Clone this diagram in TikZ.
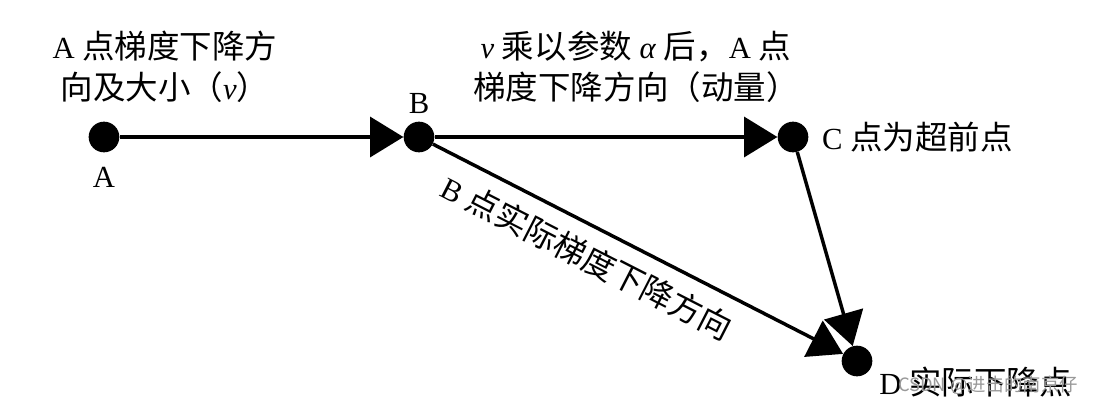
\documentclass[tikz,border=0pt]{standalone}
\usepackage{fontspec}
\setmainfont{Liberation Serif}
\newfontfamily\cjk[Scale=1.06]{Noto Sans CJK SC}
\usetikzlibrary{arrows.meta, positioning}

\begin{document}
\begin{tikzpicture}[x=0.75pt, y=-0.75pt,
    dot/.style={circle, fill=black, minimum size=23pt, inner sep=0pt},
    vec/.style={line width=2.6pt, -{Triangle[length=25pt, width=30pt]}},
    lbl/.style={font=\fontsize{23}{31}\selectfont, inner sep=0pt}]
  \useasboundingbox (0,0) rectangle (1109,408);

  % Points A, B, C, D
  \node[dot] (A) at (104,137) {};
  \node[dot] (B) at (419,137) {};
  \node[dot] (C) at (793,137) {};
  \node[dot] (D) at (857,361) {};

  % Point labels
  \node[lbl, below=11pt of A] (labA) {A};
  \node[lbl, above=6pt of B] (labB) {B};
  \node[lbl, right=10pt of C] (labC) {C {\cjk 点为超前点}};
  \node[lbl, anchor=west] (labD) at (879,382) {D {\cjk 实际下降点}};

  % Step descriptions
  \node[lbl, align=center] (stepA) at (165,67)
    {A {\cjk 点梯度下降方}\\{\cjk 向及大小（}\textit{v}{\cjk ）}};
  \node[lbl, align=center] (stepB) at (636,67)
    {\textit{v} {\cjk 乘以参数} \textit{α} {\cjk 后，}A {\cjk 点}\\{\cjk 梯度下降方向（动量）}};

  % Vectors
  \draw[vec] (A) -- (B);
  \draw[vec] (B) -- (C);
  \draw[vec] (C) -- (D);
  \draw[vec] (B) -- (D)
    node[lbl, sloped, below, pos=0.41, inner sep=10pt] (labBD) {B {\cjk 点实际梯度下降方向}};

  % Watermark
  \node[font=\cjk\fontsize{13}{13}\selectfont, text=black!40] (mark) at (988,385) {CSDN @进击的南京仔};
\end{tikzpicture}
\end{document}
